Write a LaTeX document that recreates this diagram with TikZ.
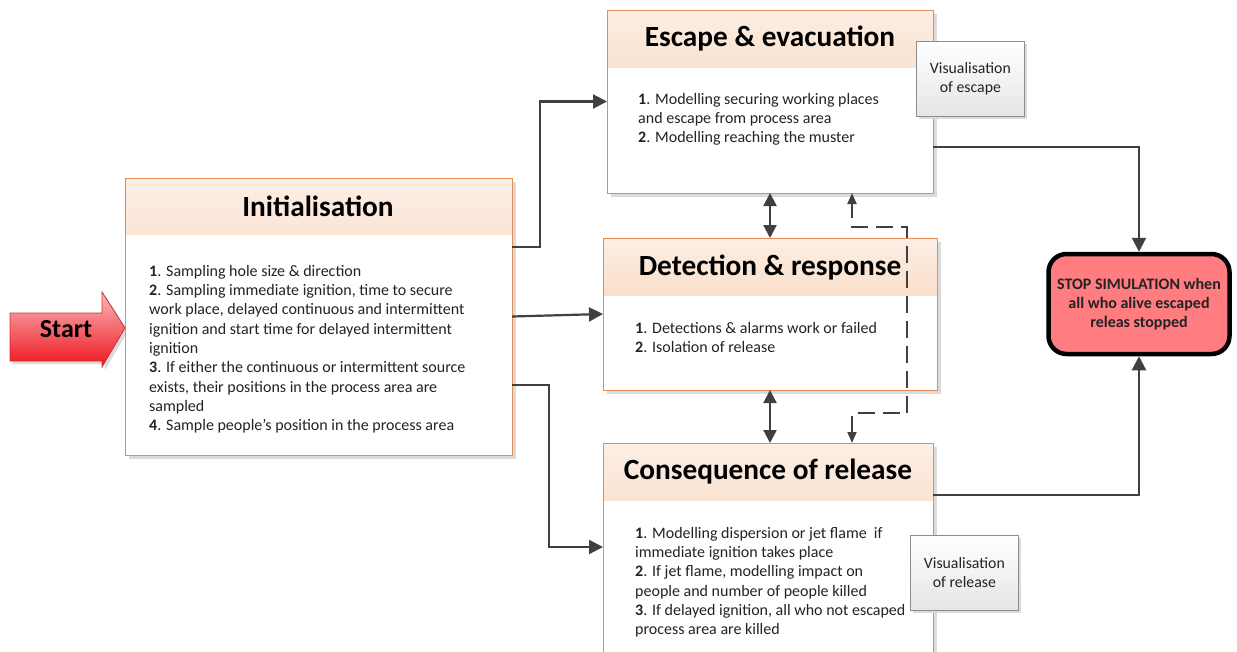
\documentclass[tikz,border=0pt]{standalone}
\usepackage{fontspec}
\setmainfont{Carlito}
\usetikzlibrary{arrows.meta,calc,shadows}

\definecolor{boxline}{RGB}{228,142,84}
\definecolor{headtop}{RGB}{252,238,228}
\definecolor{headbot}{RGB}{245,200,162}
\definecolor{conn}{RGB}{64,64,64}
\definecolor{stopfill}{RGB}{255,124,128}
\definecolor{starttop}{RGB}{250,185,185}
\definecolor{startbot}{RGB}{238,20,30}
\definecolor{startline}{RGB}{205,50,50}
\definecolor{textgray}{RGB}{35,35,35}

\tikzset{
  stage/.style={draw=boxline, line width=1pt, fill=white, anchor=north west,
    inner sep=0pt, outer sep=0pt,
    drop shadow={shadow xshift=4pt, shadow yshift=-4pt, fill=black!14, opacity=1},
    path picture={\shade[top color=headtop, bottom color=headbot]
      (path picture bounding box.north west) rectangle
      ([yshift=-#1]path picture bounding box.north east);}},
  stagetitle/.style={font=\bfseries\fontsize{29.3}{34}\selectfont, inner sep=0pt},
  stagebody/.style={anchor=north west, align=left, inner sep=0pt,
    text=textgray, font=\fontsize{16}{19.3}\selectfont},
  visbox/.style={draw=black!45, line width=0.8pt, top color=white, bottom color=black!10,
    minimum width=108pt, minimum height=75pt, anchor=north west, align=center,
    inner sep=0pt, text=textgray, font=\fontsize{15.8}{19}\selectfont,
    drop shadow={shadow xshift=3pt, shadow yshift=-3pt, fill=black!14, opacity=1}},
  flow/.style={draw=conn, line width=2.2pt, -{Triangle[length=14pt,width=14pt]}},
  twoway/.style={draw=conn, line width=2.2pt,
    {Triangle[length=13pt,width=13pt]}-{Triangle[length=13pt,width=13pt]}},
  dashflow/.style={draw=conn, line width=2pt, dash pattern=on 17pt off 8pt,
    {Triangle[length=11pt,width=9pt]}-{Triangle[length=11pt,width=9pt]}}
}

\begin{document}
\begin{tikzpicture}[x=1pt, y=-1pt]
\useasboundingbox (0,0) rectangle (1237,651);

% Start arrow
\shade[top color=starttop, bottom color=startbot, draw=startline, line width=0.8pt,
  drop shadow={shadow xshift=3pt, shadow yshift=-3pt, fill=black!14, opacity=1}]
  (10,313) -- (102,313) -- (102,292) -- (125,328) -- (102,367) -- (102,361) -- (10,361) -- cycle;
\node[font=\bfseries\fontsize{26}{30}\selectfont, inner sep=0pt] (start) at (66,329) {Start};

% Stage boxes
\node[stage=56pt, minimum width=387pt, minimum height=277pt] (init) at (125,178) {};
\node[stage=57pt, minimum width=326pt, minimum height=183pt] (esc) at (607,10) {};
\node[stage=57pt, minimum width=334pt, minimum height=152pt] (det) at (603,238) {};
\node[stage=57pt, minimum width=330pt, minimum height=220pt] (cons) at (603,443) {};

% Titles
\node[stagetitle] (initT) at (318,206) {Initialisation};
\node[stagetitle] (escT) at (770,39) {Escape \& evacuation};
\node[stagetitle] (detT) at (770,267) {Detection \& response};
\node[stagetitle] (consT) at (768,472) {Consequence of release};

% Bodies
\node[stagebody] (initB) at (149,265) {%
\textbf{1}. Sampling hole size \& direction\\
\textbf{2}. Sampling immediate ignition, time to secure\\
work place, delayed continuous and intermittent\\
ignition and start time for delayed intermittent\\
ignition\\
\textbf{3}. If either the continuous or intermittent source\\
exists, their positions in the process area are\\
sampled\\
\textbf{4}. Sample people's position in the process area};

\node[stagebody] (escB) at (638,93) {%
\textbf{1}. Modelling securing working places\\
and escape from process area\\
\textbf{2}. Modelling reaching the muster};

\node[stagebody] (detB) at (635,322) {%
\textbf{1}. Detections \& alarms work or failed\\
\textbf{2}. Isolation of release};

\node[stagebody] (consB) at (635,527) {%
\textbf{1}. Modelling dispersion or jet flame\ \ if\\
immediate ignition takes place\\
\textbf{2}. If jet flame, modelling impact on\\
people and number of people killed\\
\textbf{3}. If delayed ignition, all who not escaped\\
process area are killed};

% Visualisation boxes
\node[visbox] (visE) at (916,41) {Visualisation\\of escape};
\node[visbox] (visR) at (910,535) {Visualisation\\of release};

% Stop box
\node[draw=black, line width=4.5pt, fill=stopfill, rounded corners=18pt,
  minimum width=181pt, minimum height=100pt, align=center, inner sep=0pt,
  font=\bfseries\fontsize{16}{19.3}\selectfont, text=textgray] (stop) at (1139,304)
  {STOP SIMULATION when\\all who alive escaped\\releas stopped};

% Connectors
\draw[flow] ($(init.north east)+(0,69)$) -- ($(init.north east)+(28,69)$) |- (esc.west);
\draw[flow] (init.east) -- (det.west);
\draw[flow] ($(init.north east)+(0,207)$) -- ($(init.north east)+(37,207)$) |- ($(cons.north west)+(0,104)$);
\draw[flow] ($(esc.north east)+(0,137)$) -| (stop.north);
\draw[flow] ($(cons.north east)+(0,52)$) -| (stop.south);
\draw[twoway] (esc.south) -- (det.north);
\draw[twoway] (det.south) -- (det.south |- cons.north);
\draw[dashflow] (852,0 |- cons.north) -- (852,413) -- (907,413) -- (907,227)
  -- (852,227) -- (852,0 |- esc.south);
\end{tikzpicture}
\end{document}
